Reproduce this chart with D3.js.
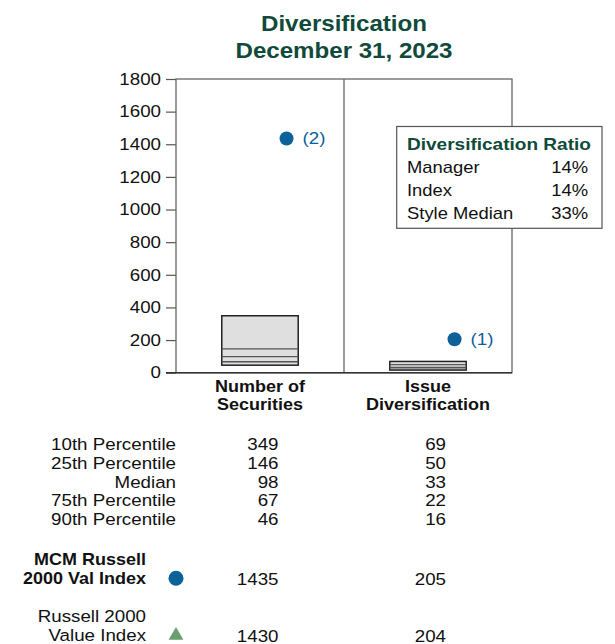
<!DOCTYPE html>
<html><head><meta charset="utf-8">
<script src="https://cdn.jsdelivr.net/npm/d3@7"></script>
<style>
html,body{margin:0;padding:0;background:#fff;}
svg{display:block;font-family:"Liberation Sans",Arial,Helvetica,sans-serif;}
</style></head>
<body>
<script>
const titleLines = ["Diversification", "December 31, 2023"];
const categories = ["Number of Securities", "Issue Diversification"];
const categoryLines = [["Number of", "Securities"], ["Issue", "Diversification"]];
const yTicks = [0, 200, 400, 600, 800, 1000, 1200, 1400, 1600, 1800];
const percentileLabels = ["10th Percentile", "25th Percentile", "Median", "75th Percentile", "90th Percentile"];
const p10 = [349, 69];
const p25 = [146, 50];
const p50 = [98, 33];
const p75 = [67, 22];
const p90 = [46, 16];
const managerName = ["MCM Russell", "2000 Val Index"];
const managerValues = [1435, 205];
const managerTags = ["(2)", "(1)"];
const indexName = ["Russell 2000", "Value Index"];
const indexValues = [1430, 204];
const ratioTitle = "Diversification Ratio";
const ratioLabels = ["Manager", "Index", "Style Median"];
const ratioValues = ["14%", "14%", "33%"];

const W = 615, H = 644;
const green = "#0f4a3a", blue = "#0b6198", triGreen = "#6a9e6c";
const SX = 1.15, SXB = 1.09;

const svg = d3.select("body").append("svg").attr("width", W).attr("height", H);

function txt(x, y, s, o = {}) {
  const t = svg.append("text")
    .attr("transform", `translate(${x},${y}) scale(${o.sx || SX},1)`)
    .attr("text-anchor", o.anchor || "start")
    .attr("font-size", o.size || 16.3)
    .attr("font-weight", o.bold ? "bold" : "normal")
    .attr("fill", o.fill || "#111")
    .text(s);
  if (o.dy) t.attr("dy", o.dy);
  return t;
}

// Title
const plotL = 176, plotR = 512, plotT = 79, plotB = 372.7;
const cx = (plotL + plotR) / 2;
txt(cx, 30.7, titleLines[0], {anchor: "middle", bold: true, size: 21.9, sx: 1.1, fill: green});
txt(cx, 57.5, titleLines[1], {anchor: "middle", bold: true, size: 21.9, sx: 1.1, fill: green});

const y = d3.scaleLinear().domain([0, 1800]).range([plotB, plotT]);
const x = d3.scaleBand().domain(categories).range([plotL, plotR]).padding(0);
const boxW = x.bandwidth() * 0.455;
const dotOff = x.bandwidth() * 0.158;

// Y axis
const yAxis = svg.append("g").attr("transform", `translate(${plotL},0)`)
  .call(d3.axisLeft(y).tickValues(yTicks).tickSize(10).tickPadding(5).tickFormat(d3.format("d")));
yAxis.select(".domain").remove();
yAxis.selectAll(".tick line").attr("stroke", "#555").attr("stroke-width", 1.2);
yAxis.selectAll(".tick text").attr("font-size", 16.3).attr("fill", "#111")
  .attr("font-family", "Liberation Sans, Arial, sans-serif")
  .each(function () {
    const t = d3.select(this); const xx = +t.attr("x");
    t.attr("x", 0).attr("transform", `translate(${xx},0) scale(${SX},1)`);
  });

// Frame
svg.append("rect").attr("x", plotL).attr("y", plotT).attr("width", plotR - plotL).attr("height", plotB - plotT)
  .attr("fill", "none").attr("stroke", "#666").attr("stroke-width", 1.3);
svg.append("line").attr("x1", x(categories[1])).attr("x2", x(categories[1])).attr("y1", plotT).attr("y2", plotB)
  .attr("stroke", "#666").attr("stroke-width", 1.3);
svg.append("line").attr("x1", plotL - 10).attr("x2", plotR).attr("y1", plotB).attr("y2", plotB)
  .attr("stroke", "#333").attr("stroke-width", 1.4);

// Boxes
categories.forEach((c, i) => {
  const bx = x(c) + x.bandwidth() / 2 - boxW / 2;
  svg.append("rect").attr("x", bx).attr("y", y(p10[i])).attr("width", boxW).attr("height", y(p90[i]) - y(p10[i]))
    .attr("fill", "#dfdfdf").attr("stroke", "#222").attr("stroke-width", 1.5);
  [p25[i], p50[i], p75[i]].forEach(v => {
    svg.append("line").attr("x1", bx).attr("x2", bx + boxW).attr("y1", y(v)).attr("y2", y(v))
      .attr("stroke", "#555").attr("stroke-width", 1.3);
  });
  const dx = x(c) + x.bandwidth() / 2 + dotOff;
  svg.append("path").attr("d", d3.symbol(d3.symbolTriangle, 40)())
    .attr("transform", `translate(${dx},${y(indexValues[i])})`).attr("fill", triGreen);
  svg.append("circle").attr("cx", dx).attr("cy", y(managerValues[i])).attr("r", 7).attr("fill", blue);
  txt(dx + 16, y(managerValues[i]), managerTags[i], {fill: blue, size: 16.3, dy: "0.35em"});
  // category labels
  const mx = x(c) + x.bandwidth() / 2;
  txt(mx, 391.7, categoryLines[i][0], {anchor: "middle", bold: true, size: 16.5, sx: SXB});
  txt(mx, 410.3, categoryLines[i][1], {anchor: "middle", bold: true, size: 16.5, sx: SXB});
});

// Ratio box
svg.append("rect").attr("x", 396.7).attr("y", 126.5).attr("width", 205.3).attr("height", 101.8)
  .attr("fill", "#fff").attr("stroke", "#555").attr("stroke-width", 1.2);
txt(407, 150, ratioTitle, {bold: true, size: 17.3, sx: 1.1, fill: green});
ratioLabels.forEach((l, i) => {
  txt(407, 173 + i * 23, l, {size: 16});
  txt(588, 173 + i * 23, ratioValues[i], {size: 16, anchor: "end"});
});

// Percentile table
const colRight = [278.5, 446];
const rows = [p10, p25, p50, p75, p90];
percentileLabels.forEach((l, r) => {
  const by = 450 + r * 18.8;
  txt(176, by, l, {anchor: "end"});
  rows[r].forEach((v, i) => txt(colRight[i], by, v, {anchor: "end"}));
});

// Manager row
txt(146, 565, managerName[0], {anchor: "end", bold: true, size: 16.5, sx: SXB});
txt(146, 583.5, managerName[1], {anchor: "end", bold: true, size: 16.5, sx: SXB});
svg.append("circle").attr("cx", 176).attr("cy", 578.3).attr("r", 7.5).attr("fill", blue);
managerValues.forEach((v, i) => txt(colRight[i], 585, v, {anchor: "end"}));

// Index row
txt(146, 621.7, indexName[0], {anchor: "end"});
txt(146, 641, indexName[1], {anchor: "end"});
svg.append("path").attr("d", d3.symbol(d3.symbolTriangle, 95)())
  .attr("transform", `translate(176,635.5)`).attr("fill", triGreen);
indexValues.forEach((v, i) => txt(colRight[i], 641.5, v, {anchor: "end"}));
</script>
</body></html>
